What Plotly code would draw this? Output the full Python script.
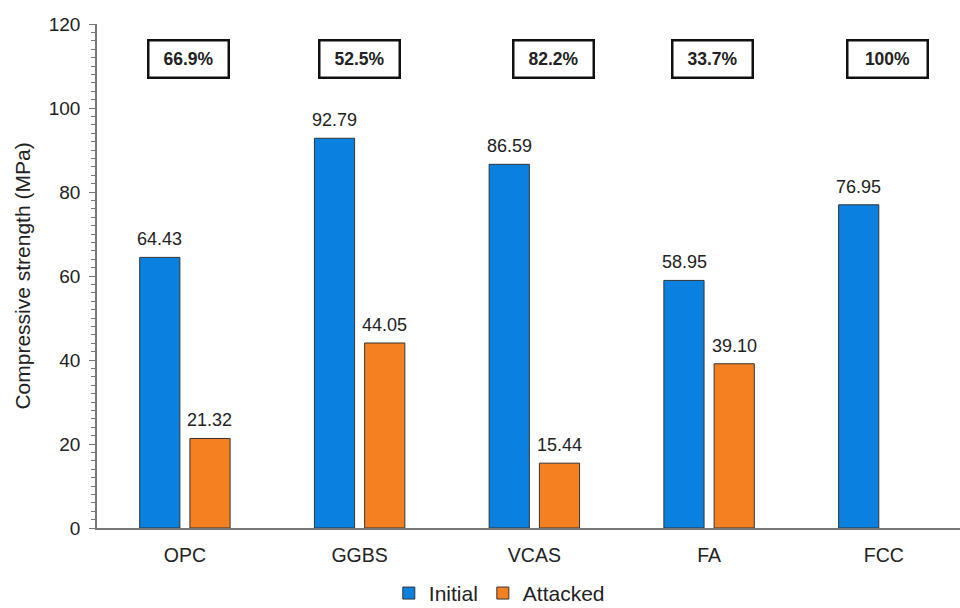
import plotly.graph_objects as go

categories = ["OPC", "GGBS", "VCAS", "FA", "FCC"]
initial = [64.43, 92.79, 86.59, 58.95, 76.95]
attacked = [21.32, 44.05, 15.44, 39.10, None]
loss_labels = ["66.9%", "52.5%", "82.2%", "33.7%", "100%"]
y_ticks = [0, 20, 40, 60, 80, 100, 120]

BLUE = "#0A80DF"
ORANGE = "#F58022"
FONT = "Arial, Liberation Sans, sans-serif"

fig = go.Figure()
fig.add_trace(go.Bar(x=categories, y=initial, name="Initial",
                     marker=dict(color=BLUE, line=dict(color="#333333", width=1))))
fig.add_trace(go.Bar(x=categories, y=attacked, name="Attacked",
                     marker=dict(color=ORANGE, line=dict(color="#333333", width=1))))

annotations = []
for i, c in enumerate(categories):
    for vals, shift in ((initial, -25), (attacked, 25)):
        v = vals[i]
        if v is None:
            continue
        annotations.append(dict(x=i, y=v, xref="x", yref="y", xshift=shift, yshift=6,
                                text=f"{v:.2f}", showarrow=False, yanchor="bottom",
                                font=dict(size=18, color="#222222", family=FONT)))

box_offsets = [0.02, 0.0, 0.11, 0.02, 0.02]
for i, lab in enumerate(loss_labels):
    annotations.append(dict(x=i + box_offsets[i], y=111.7, xref="x", yref="y", text=f"<b>{lab}</b>",
                            showarrow=False, bordercolor="#111111", borderwidth=2.5,
                            width=74, height=31, borderpad=2, align="center",
                            font=dict(size=17.5, color="#222222", family=FONT)))

fig.update_layout(
    width=960, height=608,
    margin=dict(l=97, r=0, t=24, b=80),
    plot_bgcolor="white", paper_bgcolor="white",
    barmode="group", bargap=0.425, bargroupgap=0.2,
    font=dict(family=FONT, color="#222222"),
    annotations=annotations,
    showlegend=True,
    legend=dict(orientation="h", x=0.405, xanchor="left", xref="container",
                y=0.024, yanchor="middle", yref="container",
                font=dict(size=21, color="#222222", family=FONT), itemwidth=30,
                traceorder="normal"),
    xaxis=dict(range=[-0.503, 4.436], showline=True, linecolor="#777777", linewidth=1.5,
               ticks="", tickfont=dict(size=19.5, color="#222222"), showgrid=False,
               ticklabelstandoff=9),
    yaxis=dict(range=[0, 120], tickvals=y_ticks, showline=True, linecolor="#777777", linewidth=1.5,
               ticks="outside", ticklen=6, tickcolor="#777777", showgrid=False, zeroline=False,
               tickfont=dict(size=19, color="#222222"), ticklabelstandoff=5,
               minor=dict(ticks="outside", dtick=2, ticklen=4, tickcolor="#777777"),
               title=dict(text="Compressive strength (MPa)", font=dict(size=21, color="#222222"),
                          standoff=12)),
)

fig.write_html("out.html")
